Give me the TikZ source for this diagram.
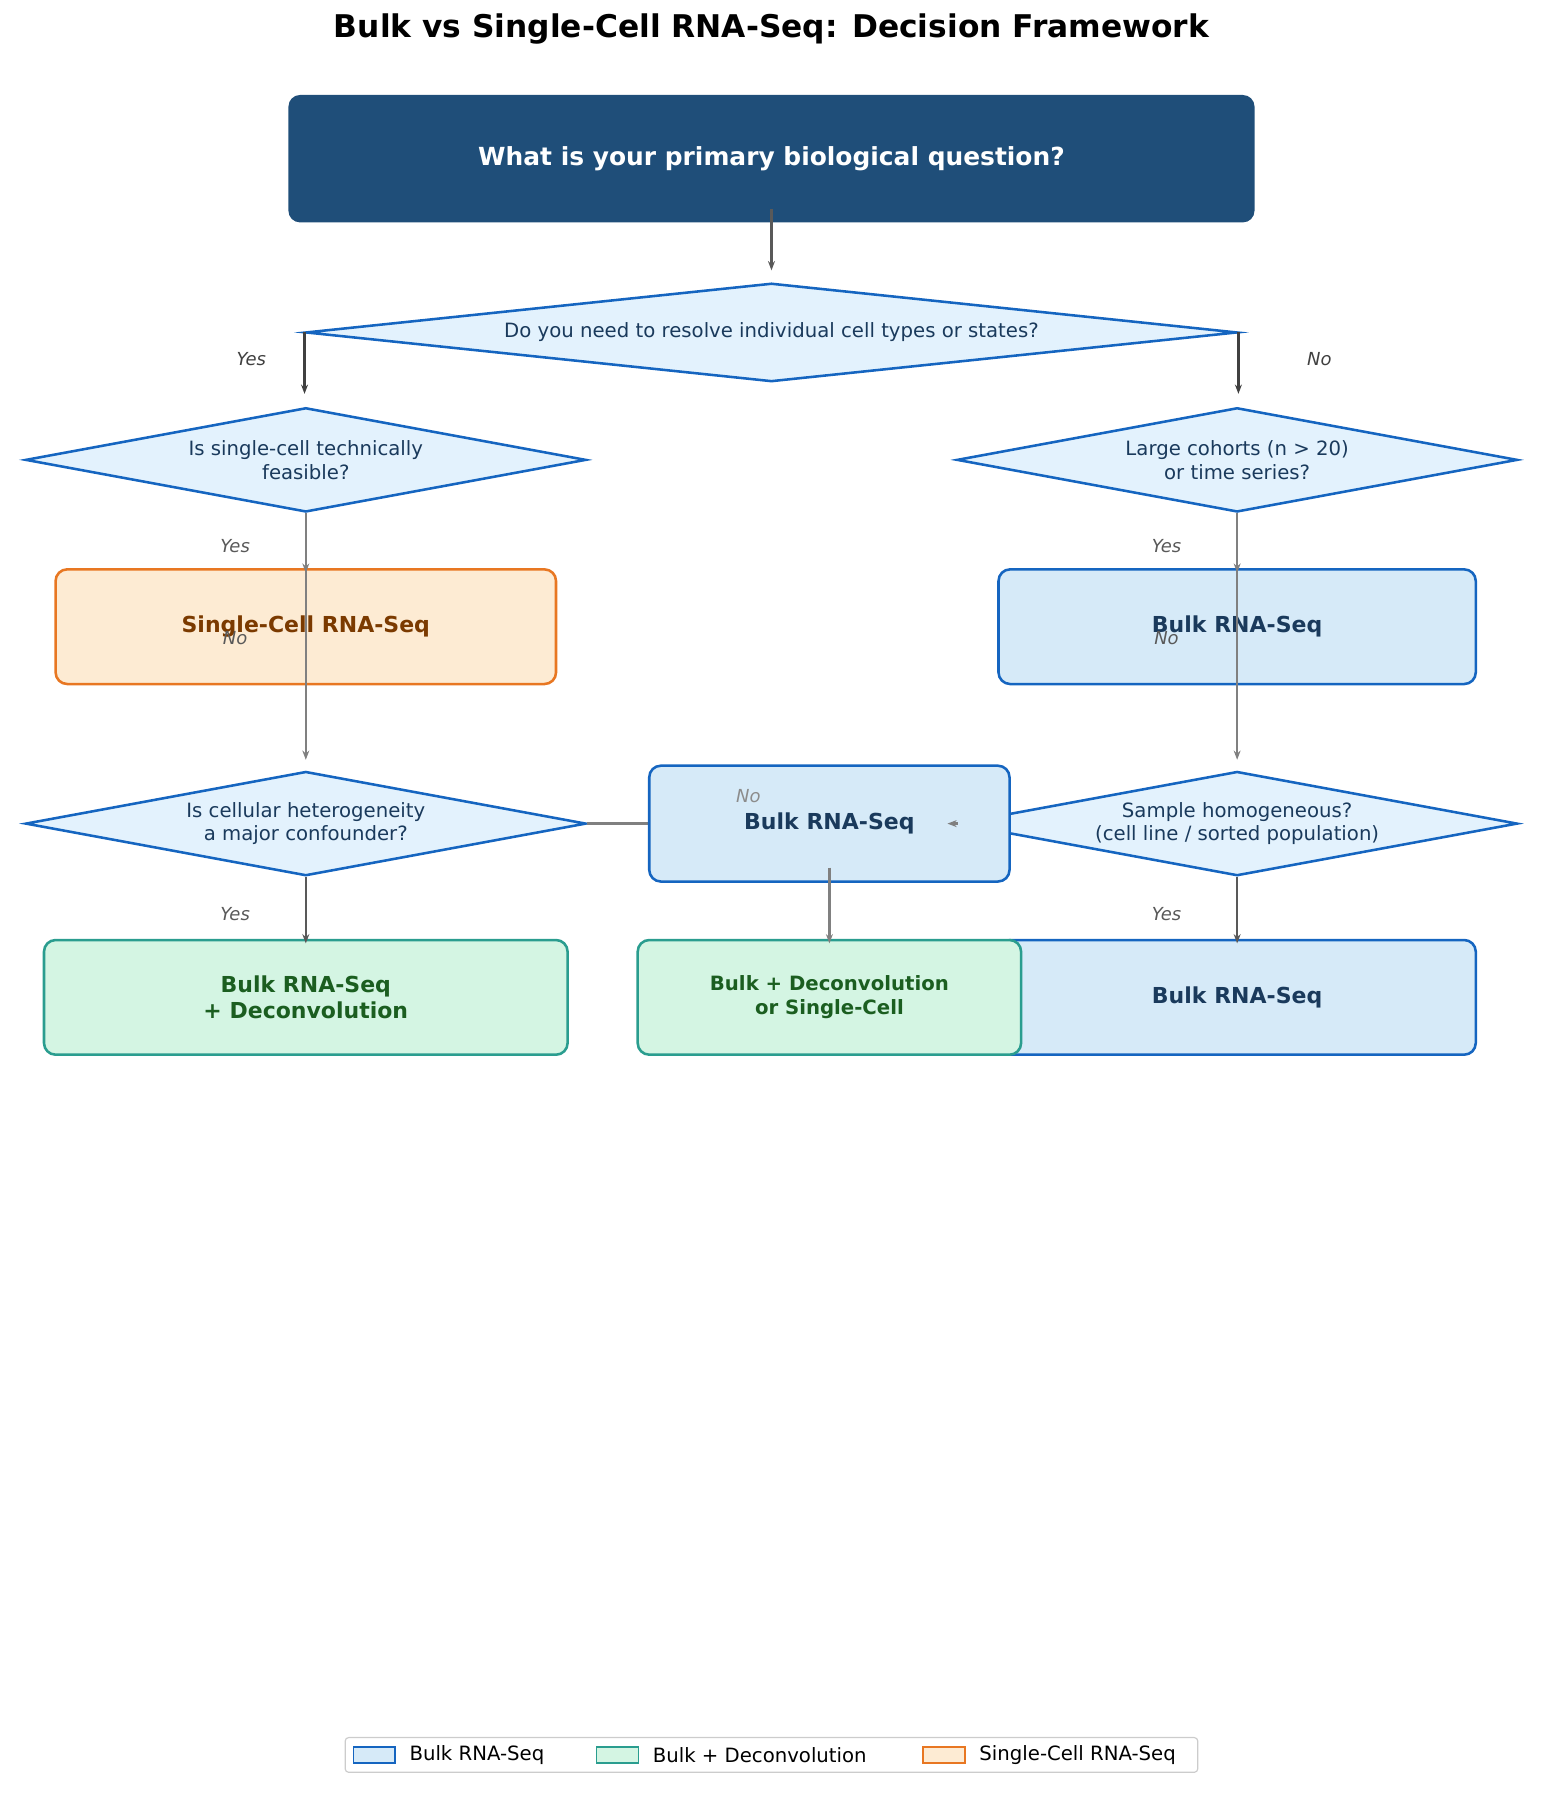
\documentclass[tikz,border=0pt]{standalone}
\usepackage{fontspec}
\setmainfont{DejaVu Sans}
\usetikzlibrary{shapes.geometric,backgrounds,arrows.meta}
\definecolor{navy}{HTML}{1F4E79}
\definecolor{dfill}{HTML}{E3F2FD}
\definecolor{dline}{HTML}{1565C0}
\definecolor{bfill}{HTML}{D6EAF8}
\definecolor{btext}{HTML}{1A3A5C}
\definecolor{ofill}{HTML}{FDEBD3}
\definecolor{oline}{HTML}{E87722}
\definecolor{otext}{HTML}{7B3A00}
\definecolor{gfill}{HTML}{D4F5E3}
\definecolor{gline}{HTML}{2A9D8F}
\definecolor{gtext}{HTML}{1B5E20}
\newcommand{\fs}[1]{\fontsize{#1}{\dimexpr#1pt*6/5\relax}\selectfont}
\tikzset{
 x=1pt,y=-1pt,
 dia/.style={diamond,draw=dline,fill=dfill,line width=2.2pt,inner sep=0pt,aspect=#1,align=center,text=btext,font=\fs{17}},
 box/.style={rounded corners=10pt,line width=2.2pt,align=center,font=\bfseries\fs{19}},
 bulk/.style={box,draw=dline,fill=bfill,text=btext},
 sc/.style={box,draw=oline,fill=ofill,text=otext},
 dec/.style={box,draw=gline,fill=gfill,text=gtext},
 arr/.style={draw=black!65,line width=2pt,-{Stealth[length=8pt,width=6pt]}},
 arrl/.style={draw=black!50,line width=2pt,-{Stealth[length=8pt,width=6pt]}},
 lab/.style={font=\itshape\fs{15.5},text=black!65},
 labl/.style={font=\itshape\fs{15.5},text=black!45},
}
\begin{document}
\begin{tikzpicture}
\useasboundingbox (0,0) rectangle (1330,1566);
\node[font=\bfseries\fs{27}] (title) at (666,25) {Bulk vs Single-Cell RNA-Seq: Decision Framework};
\node[rounded corners=10pt,fill=navy,text=white,font=\bfseries\fs{21.5},minimum width=834pt,minimum height=110pt] (top) at (666,137) {What is your primary biological question?};
\node[dia=9.46,minimum width=804pt,minimum height=85pt] (d1) at (666,287) {Do you need to resolve individual cell types or states?};
\node[dia=5.4,minimum width=484pt,minimum height=90pt] (d2) at (264,397) {Is single-cell technically\\feasible?};
\node[dia=5.4,minimum width=484pt,minimum height=90pt] (d3) at (1068,397) {Large cohorts (n > 20)\\or time series?};
\node[sc,minimum width=432pt,minimum height=99pt] (sc) at (264,541) {Single-Cell RNA-Seq};
\node[bulk,minimum width=412pt,minimum height=99pt] (b1) at (1068,541) {Bulk RNA-Seq};
\node[dia=5.4,minimum width=484pt,minimum height=90pt] (d4) at (264,711) {Is cellular heterogeneity\\a major confounder?};
\node[dia=5.4,minimum width=484pt,minimum height=90pt] (d5) at (1068,711) {Sample homogeneous?\\(cell line / sorted population)};
\draw[arrl] (d4.east) -- ([xshift=-8pt]d5.west);
\node[bulk,minimum width=311pt,minimum height=100pt] (b2) at (716,711) {Bulk RNA-Seq};
\node[dec,minimum width=452pt,minimum height=99pt] (g1) at (264,861) {Bulk RNA-Seq\\+ Deconvolution};
\node[bulk,minimum width=412pt,minimum height=99pt] (b3) at (1068,861) {Bulk RNA-Seq};
\node[dec,font=\bfseries\fs{17},minimum width=331pt,minimum height=99pt] (g2) at (716,861) {Bulk + Deconvolution\\or Single-Cell};
\draw[arr] ([yshift=12pt]top.south) -- ([yshift=10pt]d1.north);
\draw[draw=black!75,line width=2.5pt,-{Stealth[length=8pt,width=6pt]}] (d1.west) -- ++(0,53);
\draw[draw=black!75,line width=2.5pt,-{Stealth[length=8pt,width=6pt]}] (d1.east) -- ++(0,53);
\draw[arrl] (d2.south) -- ([yshift=-4pt]sc.north);
\draw[arrl] (d2.south) -- ([yshift=9pt]d4.north);
\draw[arrl] (d3.south) -- ([yshift=-4pt]b1.north);
\draw[arrl] (d3.south) -- ([yshift=9pt]d5.north);
\draw[arrl,-{Stealth[length=8pt,width=6pt]}] ([xshift=2pt]d5.west) -- ([xshift=-7pt]d5.west);
\draw[arr] (d4.south) -- ([yshift=-4pt]g1.north);
\draw[arr] (d5.south) -- ([yshift=-4pt]b3.north);
\draw[arrl] ([yshift=13pt]b2.south) -- ([yshift=-4pt]g2.north);
\node[lab,text=black!75] (l1) at (217,310) {Yes};
\node[lab,text=black!75] (l2) at (1139,310) {No};
\node[lab] (l3) at (203,471) {Yes};
\node[lab] (l4) at (203,551) {No};
\node[lab] (l5) at (1007,471) {Yes};
\node[lab] (l6) at (1007,551) {No};
\node[labl] (l7) at (646,687) {No};
\node[lab] (l8) at (203,789) {Yes};
\node[lab] (l9) at (1007,789) {Yes};
\draw[black!20,rounded corners=3pt,fill=white,line width=1pt] (298,1500) rectangle (1034,1530);
\draw[dline,fill=bfill,line width=1.3pt] (305,1508) rectangle (341,1522);
\node[anchor=west,font=\fs{17}] (lg1) at (350,1515) {Bulk RNA-Seq};
\draw[gline,fill=gfill,line width=1.3pt] (515,1508) rectangle (551,1522);
\node[anchor=west,font=\fs{17}] (lg2) at (560,1515) {Bulk + Deconvolution};
\draw[oline,fill=ofill,line width=1.3pt] (797,1508) rectangle (833,1522);
\node[anchor=west,font=\fs{17}] (lg3) at (842,1515) {Single-Cell RNA-Seq};
\end{tikzpicture}
\end{document}
